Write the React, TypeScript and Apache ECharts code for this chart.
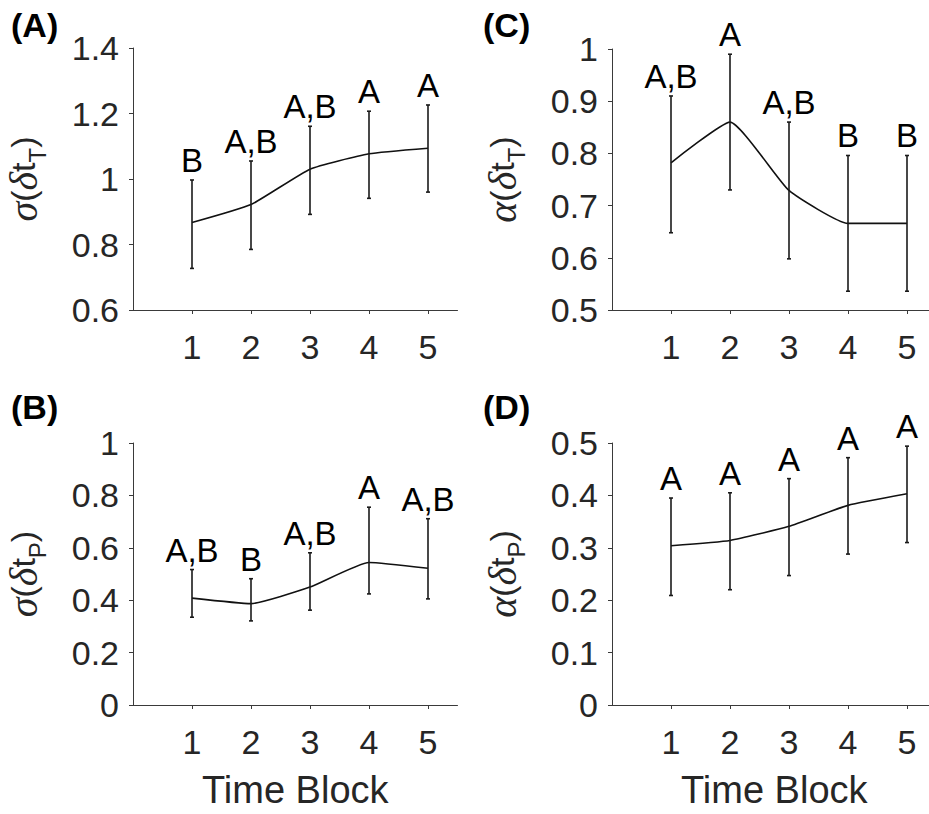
import React, { useEffect, useRef } from "react";
import * as echarts from "echarts";

const blocks = [1, 2, 3, 4, 5];

const meanA = [0.867, 0.922, 1.03, 1.077, 1.094];
const lowA = [0.727, 0.785, 0.892, 0.941, 0.96];
const highA = [0.997, 1.055, 1.161, 1.207, 1.226];
const lettersA = ["B", "A,B", "A,B", "A", "A"];
const ticksA = [0.6, 0.8, 1.0, 1.2, 1.4];

const meanB = [0.408, 0.387, 0.45, 0.544, 0.522];
const lowB = [0.335, 0.321, 0.362, 0.424, 0.405];
const highB = [0.517, 0.482, 0.581, 0.755, 0.711];
const lettersB = ["A,B", "B", "A,B", "A", "A,B"];
const ticksB = [0, 0.2, 0.4, 0.6, 0.8, 1.0];

const meanC = [0.782, 0.86, 0.729, 0.666, 0.666];
const lowC = [0.648, 0.73, 0.598, 0.536, 0.536];
const highC = [0.91, 0.99, 0.86, 0.796, 0.796];
const lettersC = ["A,B", "A", "A,B", "B", "B"];
const ticksC = [0.5, 0.6, 0.7, 0.8, 0.9, 1.0];

const meanD = [0.304, 0.314, 0.341, 0.381, 0.403];
const lowD = [0.209, 0.22, 0.247, 0.288, 0.31];
const highD = [0.395, 0.405, 0.432, 0.472, 0.494];
const lettersD = ["A", "A", "A", "A", "A"];
const ticksD = [0, 0.1, 0.2, 0.3, 0.4, 0.5];

const panelLabels = ["(A)", "(B)", "(C)", "(D)"];
const greekNames = ["σ", "σ", "α", "α"];
const subNames = ["T", "P", "T", "P"];
const xName = "Time Block";

const SANS = "'Liberation Sans', Arial, Helvetica, sans-serif";
const SERIF = "'Liberation Serif', 'DejaVu Serif', serif";
const AXIS_COLOR = "#3a3a3a";
const TEXT_COLOR = "#262626";

type Panel = {
  mean: number[];
  low: number[];
  high: number[];
  letters: string[];
  ticks: number[];
  left: number;
  top: number;
  height: number;
  showXName: boolean;
};

const panels: Panel[] = [
  { mean: meanA, low: lowA, high: highA, letters: lettersA, ticks: ticksA, left: 133, top: 48, height: 262, showXName: false },
  { mean: meanB, low: lowB, high: highB, letters: lettersB, ticks: ticksB, left: 133, top: 443, height: 262, showXName: true },
  { mean: meanC, low: lowC, high: highC, letters: lettersC, ticks: ticksC, left: 612, top: 49, height: 261, showXName: false },
  { mean: meanD, low: lowD, high: highD, letters: lettersD, ticks: ticksD, left: 612, top: 443, height: 262, showXName: true },
];

const X_MAX = 5.5;
const UNIT = 59;

function buildOption() {
  const grid: any[] = [];
  const xAxis: any[] = [];
  const yAxis: any[] = [];
  const series: any[] = [];
  const graphic: any[] = [];

  panels.forEach((p, i) => {
    grid.push({
      left: p.left,
      top: p.top,
      width: X_MAX * UNIT,
      height: p.height,
      outerBoundsMode: "none",
      containLabel: false,
    });
    xAxis.push({
      type: "value",
      gridIndex: i,
      min: 0,
      max: X_MAX,
      interval: 1,
      name: p.showXName ? xName : "",
      nameLocation: "middle",
      nameGap: 66,
      nameTextStyle: { fontSize: 38, color: TEXT_COLOR, fontFamily: SANS },
      axisLine: { show: true, lineStyle: { color: AXIS_COLOR, width: 1 } },
      axisTick: {
        show: true,
        inside: false,
        length: 4,
        customValues: blocks,
        lineStyle: { color: AXIS_COLOR, width: 1 },
      },
      axisLabel: {
        show: true,
        customValues: blocks,
        margin: 20,
        fontSize: 34,
        color: TEXT_COLOR,
        fontFamily: SANS,
        formatter: (v: number) => (blocks.indexOf(v) >= 0 ? String(v) : ""),
      },
      splitLine: { show: false },
    });
    const tmin = p.ticks[0];
    const tmax = p.ticks[p.ticks.length - 1];
    const step = +(p.ticks[1] - p.ticks[0]).toFixed(6);
    yAxis.push({
      type: "value",
      gridIndex: i,
      min: tmin,
      max: tmax,
      interval: step,
      axisLine: { show: true, lineStyle: { color: AXIS_COLOR, width: 1 } },
      axisTick: { show: true, inside: false, length: 4, lineStyle: { color: AXIS_COLOR, width: 1 } },
      axisLabel: {
        show: true,
        margin: 14,
        fontSize: 34,
        color: TEXT_COLOR,
        fontFamily: SANS,
        formatter: (v: number) => String(+v.toFixed(2)),
      },
      splitLine: { show: false },
    });

    series.push({
      type: "line",
      xAxisIndex: i,
      yAxisIndex: i,
      data: blocks.map((b, k) => [b, p.mean[k]]),
      smooth: 0.15,
      showSymbol: false,
      symbol: "none",
      lineStyle: { color: "#111", width: 1.6 },
      z: 3,
    });

    const letters = p.letters;
    series.push({
      type: "custom",
      xAxisIndex: i,
      yAxisIndex: i,
      data: blocks.map((b, k) => [b, p.low[k], p.high[k]]),
      encode: { x: 0, y: [1, 2] },
      clip: false,
      z: 4,
      renderItem: (params: any, api: any) => {
        const x = api.value(0);
        const lo = api.value(1);
        const hi = api.value(2);
        const top = api.coord([x, hi]);
        const bot = api.coord([x, lo]);
        const cap = 2;
        const st = { stroke: "#1a1a1a", lineWidth: 1.6 };
        return {
          type: "group",
          children: [
            { type: "line", shape: { x1: top[0], y1: top[1], x2: bot[0], y2: bot[1] }, style: st },
            { type: "line", shape: { x1: top[0] - cap, y1: top[1], x2: top[0] + cap, y2: top[1] }, style: st },
            { type: "line", shape: { x1: bot[0] - cap, y1: bot[1], x2: bot[0] + cap, y2: bot[1] }, style: st },
            {
              type: "text",
              x: top[0],
              y: top[1] - 3,
              style: {
                text: letters[params.dataIndex],
                align: "center",
                verticalAlign: "bottom",
                fontSize: 33,
                fontFamily: SANS,
                fill: "#000",
              },
            },
          ],
        };
      },
    });

    // panel label
    graphic.push({
      type: "text",
      left: i < 2 ? 11 : 483,
      top: i % 2 === 0 ? 8 : 390,
      style: {
        text: panelLabels[i],
        fontSize: 34,
        fontWeight: "bold",
        fontFamily: SANS,
        fill: "#000",
      },
    });

    // y axis name (rotated rich text)
    graphic.push({
      type: "text",
      x: p.left - 110,
      y: p.top + p.height / 2,
      rotation: Math.PI / 2,
      style: {
        text: `{g|${greekNames[i]}}{p|(}{g|δ}{p|t}{s|${subNames[i]}}{p|)}`,
        align: "center",
        verticalAlign: "middle",
        rich: {
          g: { fontSize: 40, fontStyle: "italic", fontFamily: SERIF, fill: TEXT_COLOR, lineHeight: 52, verticalAlign: "middle" },
          p: { fontSize: 34, fontFamily: SANS, fill: TEXT_COLOR, lineHeight: 52, verticalAlign: "middle" },
          s: { fontSize: 24, fontFamily: SANS, fill: TEXT_COLOR, lineHeight: 8, verticalAlign: "bottom" },
        },
      },
    });
  });

  return {
    animation: false,
    backgroundColor: "#ffffff",
    grid,
    xAxis,
    yAxis,
    series,
    graphic,
  };
}

export default function App() {
  const ref = useRef<HTMLDivElement>(null);
  useEffect(() => {
    if (!ref.current) return;
    const chart = echarts.init(ref.current, undefined, { renderer: "svg" });
    chart.setOption(buildOption() as any);
    return () => chart.dispose();
  }, []);
  return (
    <div
      ref={ref}
      style={{ position: "absolute", left: 0, top: 0, width: 929, height: 814, background: "#fff" }}
    />
  );
}
